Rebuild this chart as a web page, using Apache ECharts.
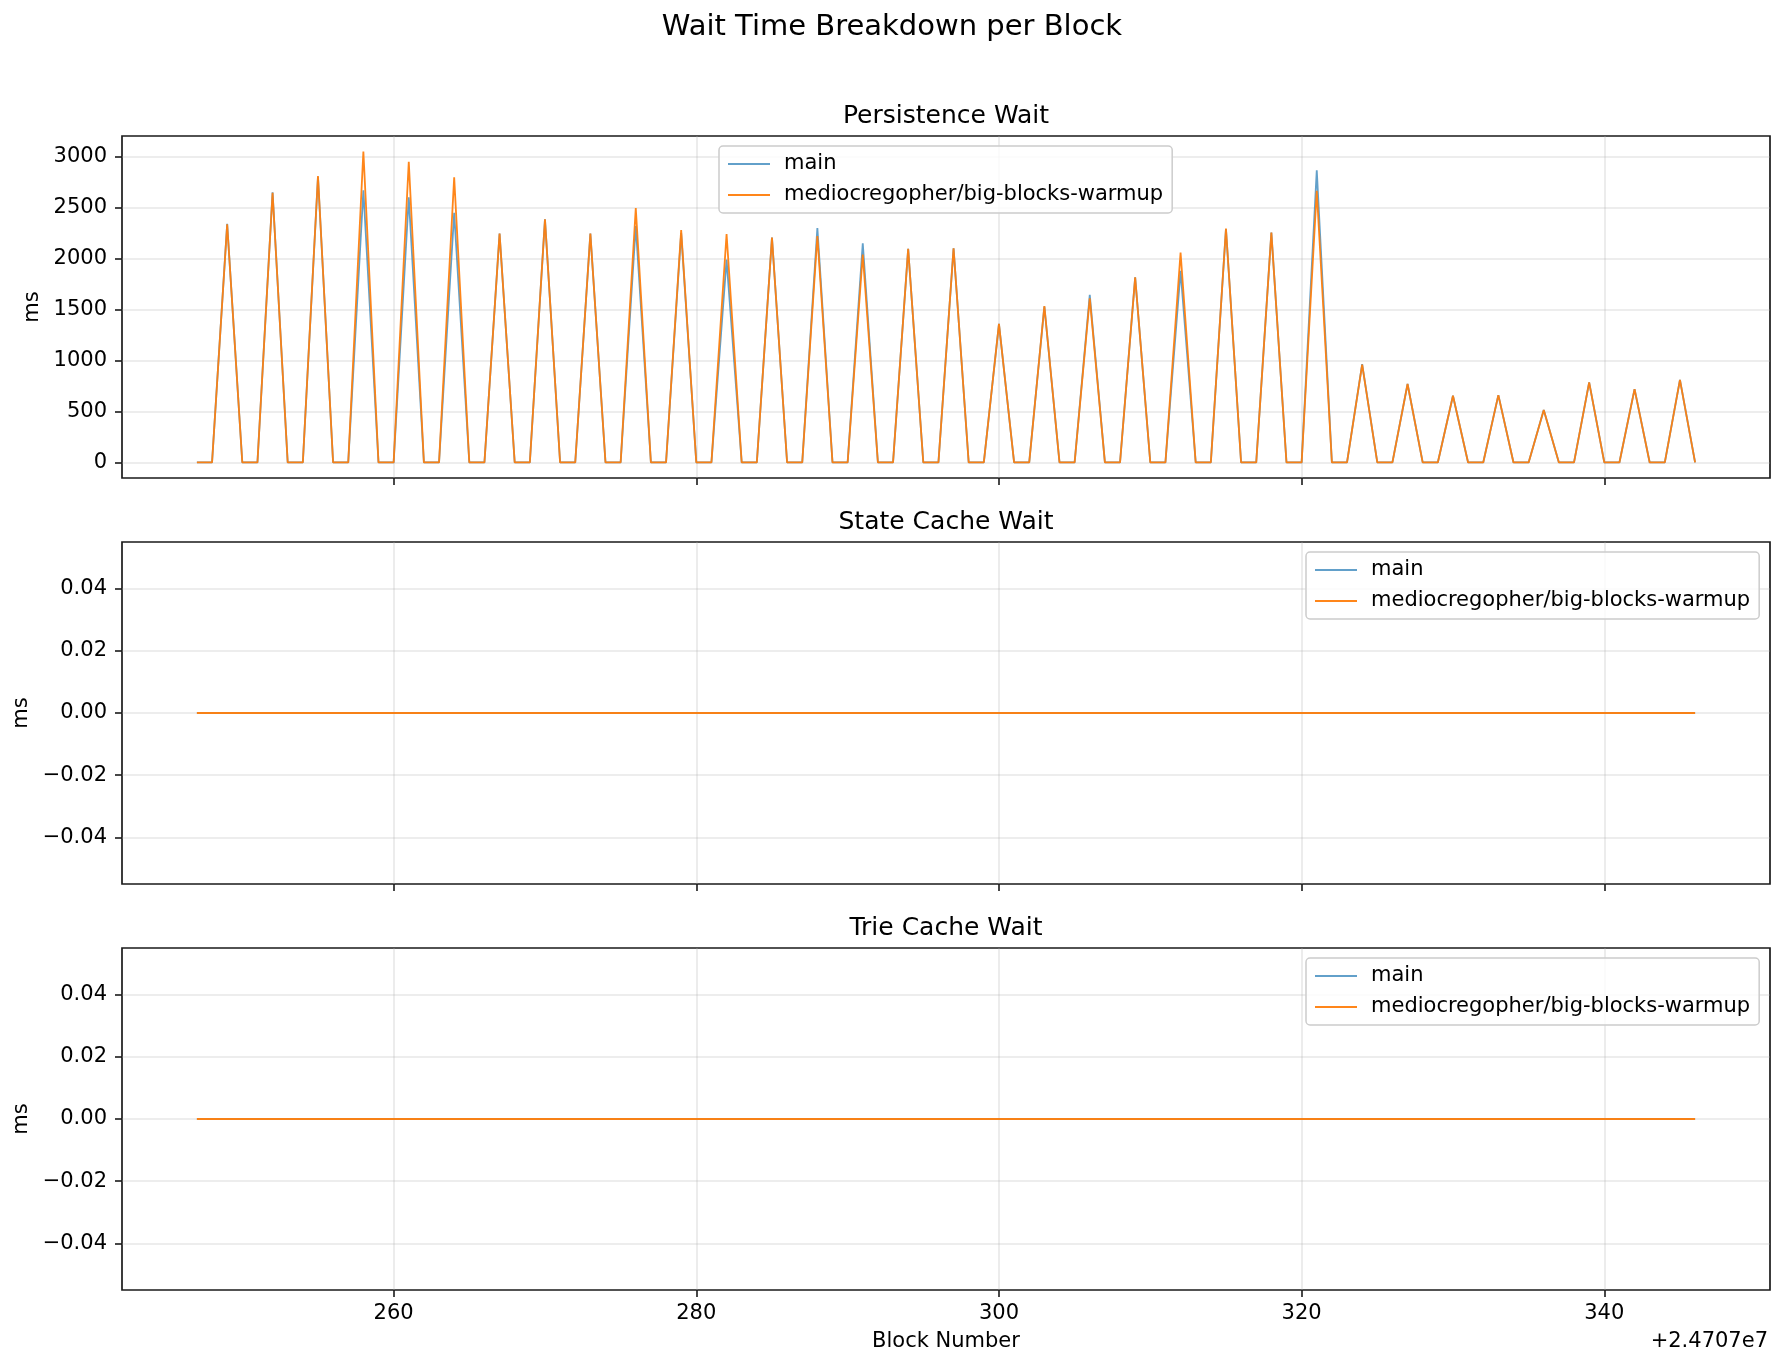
<!DOCTYPE html>
<html>
<head>
<meta charset="utf-8">
<script src="https://cdn.jsdelivr.net/npm/echarts@6/dist/echarts.min.js"></script>
<style>
html,body{margin:0;padding:0;background:#fff;}
#chart{width:1784px;height:1369px;}
</style>
</head>
<body>
<div id="chart"></div>
<script>
// ---- data ----
const BLOCK_OFFSET = 24707000;
const blocks = [
24707247,24707248,24707249,24707250,24707251,24707252,24707253,24707254,24707255,24707256,
24707257,24707258,24707259,24707260,24707261,24707262,24707263,24707264,24707265,24707266,
24707267,24707268,24707269,24707270,24707271,24707272,24707273,24707274,24707275,24707276,
24707277,24707278,24707279,24707280,24707281,24707282,24707283,24707284,24707285,24707286,
24707287,24707288,24707289,24707290,24707291,24707292,24707293,24707294,24707295,24707296,
24707297,24707298,24707299,24707300,24707301,24707302,24707303,24707304,24707305,24707306,
24707307,24707308,24707309,24707310,24707311,24707312,24707313,24707314,24707315,24707316,
24707317,24707318,24707319,24707320,24707321,24707322,24707323,24707324,24707325,24707326,
24707327,24707328,24707329,24707330,24707331,24707332,24707333,24707334,24707335,24707336,
24707337,24707338,24707339,24707340,24707341,24707342,24707343,24707344,24707345,24707346
];
const seriesNames = ['main', 'mediocregopher/big-blocks-warmup'];
// Persistence wait (ms)
const persistenceMain = [
0,0,2340,0,0,2650,0,0,2800,0,
0,2670,0,0,2600,0,0,2450,0,0,
2245,0,0,2385,0,0,2245,0,0,2320,
0,0,2250,0,0,1990,0,0,2205,0,
0,2300,0,0,2150,0,0,2095,0,0,
2100,0,0,1360,0,0,1530,0,0,1645,
0,0,1815,0,0,1880,0,0,2290,0,
0,2255,0,0,2865,0,0,965,0,0,
770,0,0,655,0,0,660,0,0,515,
0,0,785,0,0,720,0,0,810,0
];
const persistenceBranch = [
0,0,2335,0,0,2645,0,0,2810,0,
0,3050,0,0,2950,0,0,2797,0,0,
2245,0,0,2385,0,0,2245,0,0,2495,
0,0,2280,0,0,2240,0,0,2205,0,
0,2220,0,0,2040,0,0,2095,0,0,
2100,0,0,1360,0,0,1535,0,0,1610,
0,0,1815,0,0,2060,0,0,2295,0,
0,2255,0,0,2665,0,0,960,0,0,
770,0,0,655,0,0,660,0,0,515,
0,0,785,0,0,720,0,0,810,0
];
// State cache wait (ms)
const stateCacheMain = [
0,0,0,0,0,0,0,0,0,0, 0,0,0,0,0,0,0,0,0,0, 0,0,0,0,0,0,0,0,0,0, 0,0,0,0,0,0,0,0,0,0, 0,0,0,0,0,0,0,0,0,0,
0,0,0,0,0,0,0,0,0,0, 0,0,0,0,0,0,0,0,0,0, 0,0,0,0,0,0,0,0,0,0, 0,0,0,0,0,0,0,0,0,0, 0,0,0,0,0,0,0,0,0,0
];
const stateCacheBranch = [
0,0,0,0,0,0,0,0,0,0, 0,0,0,0,0,0,0,0,0,0, 0,0,0,0,0,0,0,0,0,0, 0,0,0,0,0,0,0,0,0,0, 0,0,0,0,0,0,0,0,0,0,
0,0,0,0,0,0,0,0,0,0, 0,0,0,0,0,0,0,0,0,0, 0,0,0,0,0,0,0,0,0,0, 0,0,0,0,0,0,0,0,0,0, 0,0,0,0,0,0,0,0,0,0
];
// Trie cache wait (ms)
const trieCacheMain = [
0,0,0,0,0,0,0,0,0,0, 0,0,0,0,0,0,0,0,0,0, 0,0,0,0,0,0,0,0,0,0, 0,0,0,0,0,0,0,0,0,0, 0,0,0,0,0,0,0,0,0,0,
0,0,0,0,0,0,0,0,0,0, 0,0,0,0,0,0,0,0,0,0, 0,0,0,0,0,0,0,0,0,0, 0,0,0,0,0,0,0,0,0,0, 0,0,0,0,0,0,0,0,0,0
];
const trieCacheBranch = [
0,0,0,0,0,0,0,0,0,0, 0,0,0,0,0,0,0,0,0,0, 0,0,0,0,0,0,0,0,0,0, 0,0,0,0,0,0,0,0,0,0, 0,0,0,0,0,0,0,0,0,0,
0,0,0,0,0,0,0,0,0,0, 0,0,0,0,0,0,0,0,0,0, 0,0,0,0,0,0,0,0,0,0, 0,0,0,0,0,0,0,0,0,0, 0,0,0,0,0,0,0,0,0,0
];
const panelTitles = ['Persistence Wait', 'State Cache Wait', 'Trie Cache Wait'];
const xTickLabels = [260, 280, 300, 320, 340];
const persistenceTicks = [0, 500, 1000, 1500, 2000, 2500, 3000];
const zeroPanelTicks = [-0.04, -0.02, 0, 0.02, 0.04];
const xLabel = 'Block Number';
const yLabel = 'ms';
const offsetText = '+2.4707e7';
const suptitle = 'Wait Time Breakdown per Block';

// ---- chart ----
const FONT = 'DejaVu Sans';
const gridTops = [136, 542, 948];
const GRID_H = 342, GRID_L = 122, GRID_W = 1648;
const COLORS = ['#1f77b4', '#ff7f0e'];
const OPAC = [0.7, 0.95];

const panels = [
  [persistenceMain, persistenceBranch],
  [stateCacheMain, stateCacheBranch],
  [trieCacheMain, trieCacheBranch]
];

function fmtSmall(v) {
  if (Math.abs(v) < 1e-9) return '0.00';
  return (v < 0 ? '\u2212' : '') + Math.abs(v).toFixed(2);
}

const grids = [], xAxes = [], yAxes = [], series = [], legends = [], titles = [];

titles.push({
  text: suptitle, left: 'center', top: 10, padding: 0,
  textStyle: {fontFamily: FONT, fontSize: 29, fontWeight: 'normal', color: '#000', lineHeight: 34}
});

const legendPos = [{left: 719, top: 146}, {left: 1306, top: 552}, {left: 1306, top: 958}];

panels.forEach((pair, i) => {
  grids.push({
    left: GRID_L, top: gridTops[i], width: GRID_W, height: GRID_H,
    show: true, borderColor: '#1a1a1a', borderWidth: 1.7, backgroundColor: 'transparent'
  });
  titles.push({
    text: panelTitles[i], left: GRID_L + GRID_W / 2, top: gridTops[i] - 35, padding: 0,
    textAlign: 'center',
    textStyle: {fontFamily: FONT, fontSize: 25, fontWeight: 'normal', color: '#000', lineHeight: 30}
  });
  const isLast = i === 2;
  xAxes.push({
    type: 'value', gridIndex: i, min: 242.05, max: 350.95,
    minInterval: 20, maxInterval: 20,
    axisLine: {show: false, onZero: false},
    axisTick: {show: true, length: 7, customValues: xTickLabels, lineStyle: {color: '#1a1a1a', width: 1.6}},
    axisLabel: {show: isLast, customValues: xTickLabels, margin: 13, fontFamily: FONT, fontSize: 21, color: '#000'},
    splitLine: {show: true, lineStyle: {color: '#b0b0b0', opacity: 0.3, width: 1.6}},
    name: isLast ? xLabel : '', nameLocation: 'middle', nameGap: 41,
    nameTextStyle: {fontFamily: FONT, fontSize: 21, color: '#000'}
  });
  const isTop = i === 0;
  yAxes.push({
    type: 'value', gridIndex: i,
    min: isTop ? -152.5 : -0.055, max: isTop ? 3202.5 : 0.055,
    minInterval: isTop ? 500 : 0.02, maxInterval: isTop ? 500 : 0.02,
    axisLine: {show: false, onZero: false},
    axisTick: {show: true, length: 7, customValues: isTop ? persistenceTicks : zeroPanelTicks, lineStyle: {color: '#1a1a1a', width: 1.6}},
    axisLabel: {
      show: true, customValues: isTop ? persistenceTicks : zeroPanelTicks, margin: 15,
      fontFamily: FONT, fontSize: 21, color: '#000',
      formatter: isTop ? (v => String(Math.round(v))) : fmtSmall
    },
    splitLine: {show: true, lineStyle: {color: '#b0b0b0', opacity: 0.3, width: 1.6}},
    name: yLabel, nameLocation: 'middle', nameRotate: 90, nameGap: isTop ? 75 : 85,
    nameTextStyle: {fontFamily: FONT, fontSize: 21, color: '#000'}
  });
  pair.forEach((vals, s) => {
    series.push({
      type: 'line', name: seriesNames[s], xAxisIndex: i, yAxisIndex: i,
      data: blocks.map((b, k) => [b - BLOCK_OFFSET, vals[k]]),
      symbol: 'none', showSymbol: false, animation: false, silent: true,
      z: 2 + s,
      itemStyle: {color: COLORS[s]},
      lineStyle: {color: COLORS[s], width: 1.8, opacity: OPAC[s]}
    });
  });
  legends.push({
    orient: 'vertical', left: legendPos[i].left, top: legendPos[i].top,
    icon: 'rect', itemWidth: 42, itemHeight: 2, itemGap: 7,
    padding: [6, 9, 6, 9],
    borderColor: '#cccccc', borderWidth: 1.5, borderRadius: 4,
    backgroundColor: 'rgba(255,255,255,0.8)',
    selectedMode: false,
    data: seriesNames.map((n, s) => ({name: n, itemStyle: {color: COLORS[s], opacity: OPAC[s]}})),
    textStyle: {fontFamily: FONT, fontSize: 21, color: '#000', lineHeight: 24, padding: [0, 0, 0, 9]}
  });
});

titles.push({
  text: offsetText, right: 16, top: 1330, padding: 0,
  textStyle: {fontFamily: FONT, fontSize: 21, fontWeight: 'normal', color: '#000', lineHeight: 24}
});

const chart = echarts.init(document.getElementById('chart'), null, {renderer: 'canvas'});
chart.setOption({
  backgroundColor: '#fff',
  animation: false,
  title: titles,
  grid: grids,
  xAxis: xAxes,
  yAxis: yAxes,
  legend: legends,
  series: series
});
</script>
</body>
</html>
